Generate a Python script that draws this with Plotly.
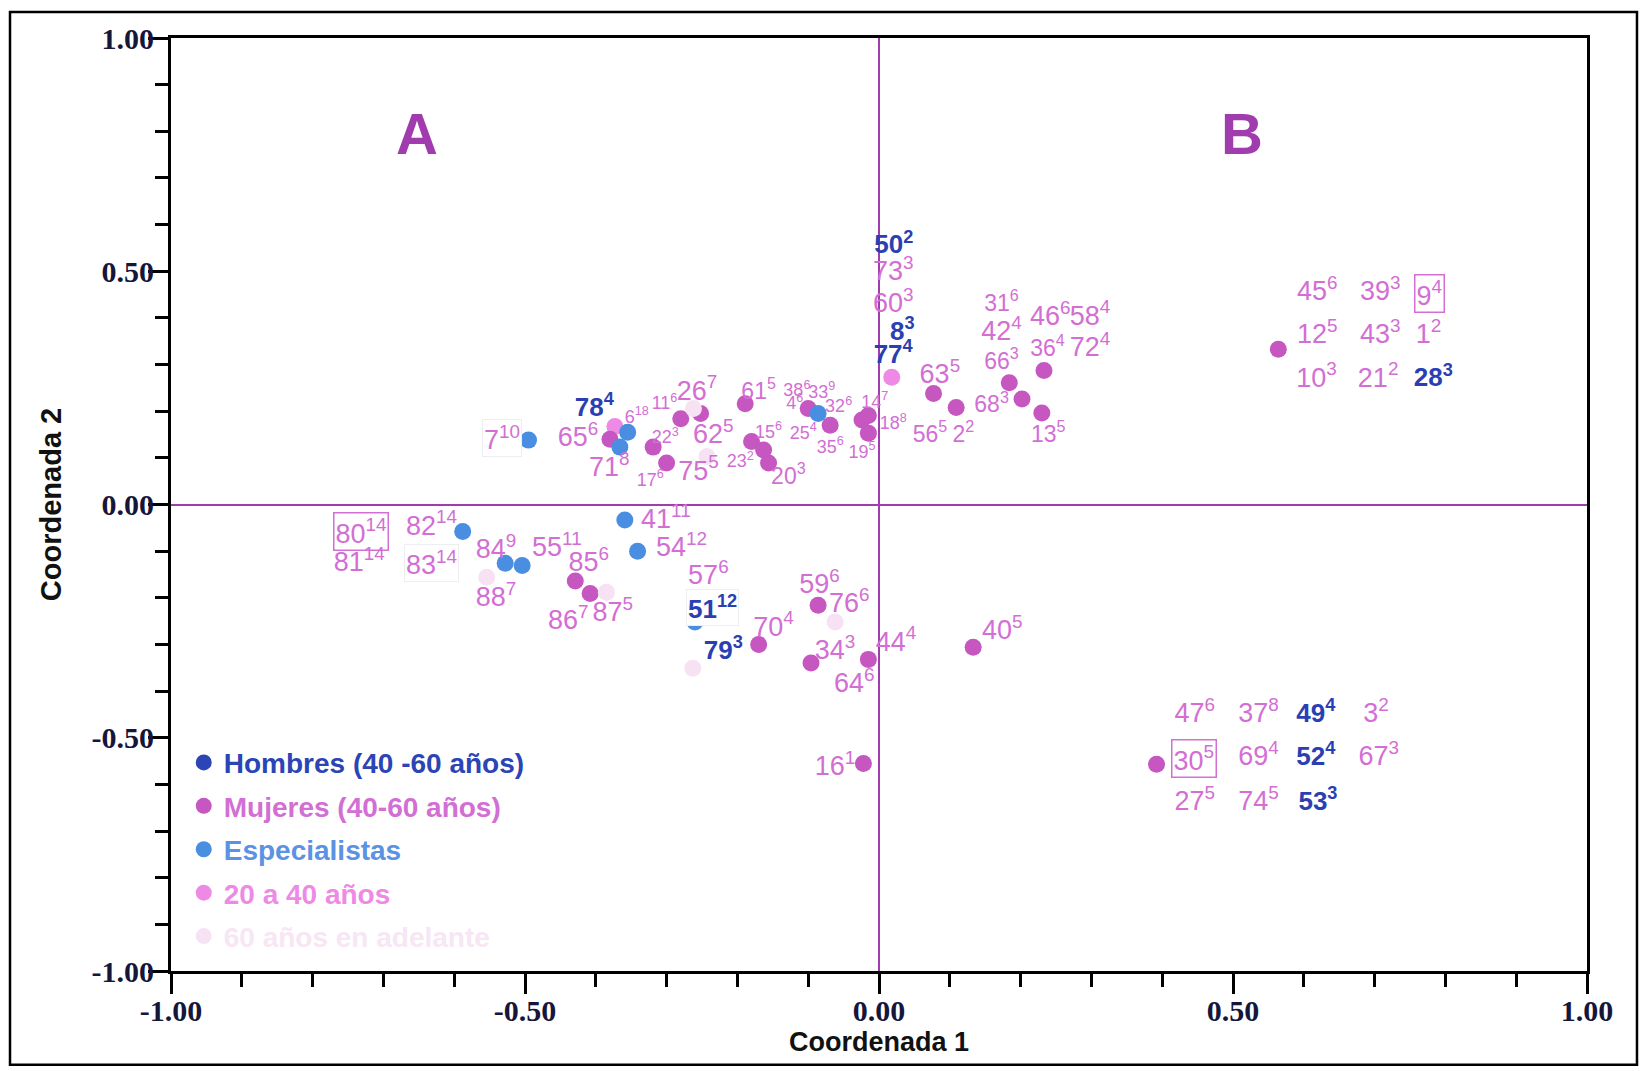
import plotly.graph_objects as go

# ---------------- DATA ----------------
# Dots per group (Coordenada 1, Coordenada 2)
mujeres_x = [-0.38, -0.319, -0.30, -0.28, -0.252, -0.189, -0.18, -0.163, -0.156, -0.10,
             -0.069, -0.024, -0.015, -0.015, 0.077, 0.109, 0.184, 0.202, 0.233, 0.23,
             -0.429, -0.408, -0.17, -0.086, -0.096, -0.015, 0.133, -0.022, 0.564, 0.392]
mujeres_y = [0.14, 0.123, 0.089, 0.184, 0.195, 0.216, 0.135, 0.117, 0.089, 0.206,
             0.170, 0.181, 0.191, 0.153, 0.238, 0.208, 0.261, 0.226, 0.287, 0.196,
             -0.164, -0.191, -0.30, -0.216, -0.34, -0.332, -0.306, -0.555, 0.333, -0.557]

especialistas_x = [-0.495, -0.355, -0.366, -0.086, -0.588, -0.528, -0.504, -0.359, -0.341, -0.26]
especialistas_y = [0.138, 0.155, 0.123, 0.195, -0.058, -0.126, -0.131, -0.033, -0.10, -0.252]

jovenes_x = [-0.373, 0.018]
jovenes_y = [0.167, 0.273]

mayores_x = [-0.262, -0.243, -0.554, -0.385, -0.062, -0.263]
mayores_y = [0.206, 0.103, -0.156, -0.188, -0.252, -0.351]

hombres_x = [None]
hombres_y = [None]

# Case labels: number, superscript, position
big_num = ["65", "26", "62", "75", "71", "73", "60", "63", "46", "58", "72", "42",
           "82", "81", "84", "55", "85", "88", "86", "87", "41", "54", "57", "70",
           "59", "76", "34", "44", "64", "40", "16",
           "45", "39", "12", "43", "1", "10", "21",
           "47", "37", "3", "69", "67", "27", "74"]
big_sup = ["6", "7", "5", "5", "8", "3", "3", "5", "6", "4", "4", "4",
           "14", "14", "9", "11", "6", "7", "7", "5", "11", "12", "6", "4",
           "6", "6", "3", "4", "6", "5", "1",
           "6", "3", "5", "3", "2", "3", "2",
           "6", "8", "2", "4", "3", "5", "5"]
big_x = [-0.425, -0.257, -0.234, -0.255, -0.381, 0.02, 0.02, 0.086, 0.242, 0.298, 0.298, 0.173,
         -0.632, -0.734, -0.541, -0.455, -0.41, -0.541, -0.439, -0.376, -0.301, -0.279, -0.241, -0.149,
         -0.084, -0.042, -0.062, 0.024, -0.035, 0.174, -0.062,
         0.619, 0.708, 0.619, 0.708, 0.776, 0.618, 0.705,
         0.446, 0.536, 0.702, 0.536, 0.706, 0.446, 0.536]
big_y = [0.139, 0.239, 0.146, 0.068, 0.075, 0.495, 0.427, 0.274, 0.399, 0.40, 0.333, 0.367,
         -0.05, -0.128, -0.10, -0.096, -0.128, -0.203, -0.253, -0.235, -0.036, -0.096, -0.157, -0.267,
         -0.175, -0.217, -0.317, -0.299, -0.388, -0.274, -0.566,
         0.452, 0.452, 0.36, 0.36, 0.36, 0.267, 0.267,
         -0.452, -0.452, -0.452, -0.545, -0.545, -0.641, -0.641]

mid_num = ["61", "20", "31", "66", "36", "68", "56", "2", "13"]
mid_sup = ["5", "3", "6", "3", "4", "3", "5", "2", "5"]
mid_x = [-0.17, -0.128, 0.173, 0.173, 0.238, 0.159, 0.072, 0.119, 0.239]
mid_y = [0.239, 0.057, 0.427, 0.303, 0.331, 0.21, 0.146, 0.146, 0.146]

small_num = ["6", "11", "38", "33", "4", "32", "14", "18", "22", "15", "25", "35", "19", "23", "17"]
small_sup = ["18", "6", "6", "9", "6", "6", "7", "8", "3", "6", "4", "6", "5", "2", "6"]
small_x = [-0.342, -0.303, -0.116, -0.081, -0.119, -0.057, -0.006, 0.02, -0.302, -0.156,
           -0.107, -0.069, -0.024, -0.196, -0.323]
small_y = [0.185, 0.214, 0.242, 0.239, 0.214, 0.207, 0.217, 0.171, 0.141, 0.153,
           0.150, 0.121, 0.110, 0.089, 0.050]

hombre_num = ["78", "50", "8", "77", "79", "28", "49", "52", "53"]
hombre_sup = ["4", "2", "3", "4", "3", "3", "4", "4", "3"]
hombre_x = [-0.402, 0.021, 0.033, 0.02, -0.22, 0.783, 0.617, 0.617, 0.62]
hombre_y = [0.203, 0.552, 0.367, 0.317, -0.317, 0.267, -0.452, -0.545, -0.641]

# Boxed labels
boxed_num = ["80", "9", "30", "7", "83", "51"]
boxed_sup = ["14", "4", "5", "10", "14", "12"]
boxed_x = [-0.731, 0.778, 0.445, -0.533, -0.632, -0.235]
boxed_y = [-0.057, 0.452, -0.545, 0.142, -0.125, -0.221]
boxed_group = ["M", "M", "M", "M", "M", "H"]
boxed_strong = [True, True, True, False, False, False]

quadrant_text = ["A", "B"]
quadrant_x = [-0.652, 0.512]
quadrant_y = [0.795, 0.795]

tick_vals = [-1.0, -0.5, 0.0, 0.5, 1.0]
tick_text = ["-1.00", "-0.50", "0.00", "0.50", "1.00"]

# ---------------- STYLE ----------------
C_MUJ = "#C656C0"
C_ESP = "#4A8EE2"
C_JOV = "#EE8AE6"
C_MAY = "#F6E2F2"
C_HOM = "#2B44B6"
C_LAB = "#D26ED4"
C_HLAB = "#2A40B2"
C_PURPLE = "#A13CAE"
SANS = "Liberation Sans, Arial, sans-serif"
SERIF = "Liberation Serif, Times New Roman, serif"
TICKC = "#16163A"

def lab(n, s):
    return [f"{a}<sup>{b}</sup>" for a, b in zip(n, s)]

fig = go.Figure()

def dots(x, y, color, name, rank, group):
    fig.add_trace(go.Scatter(
        x=x, y=y, mode="markers", name=name, legendrank=rank, legendgroup=group,
        marker=dict(size=17, color=color, line=dict(width=0)),
        hoverinfo="skip"))

dots(jovenes_x, jovenes_y, C_JOV, f"<span style='color:{C_JOV}'><b>20 a 40 años</b></span>", 4, "g4")
dots(mujeres_x, mujeres_y, C_MUJ, f"<span style='color:{C_LAB}'><b>Mujeres (40-60 años)</b></span>", 2, "g2")
dots(especialistas_x, especialistas_y, C_ESP, f"<span style='color:#5A92E4'><b>Especialistas</b></span>", 3, "g3")
dots(mayores_x, mayores_y, C_MAY, f"<span style='color:#F7E6F3'><b>60 años en adelante</b></span>", 5, "g5")
dots(hombres_x, hombres_y, C_HOM, f"<span style='color:{C_HOM}'><b>Hombres (40 -60 años)</b></span>", 1, "g1")

def texts(x, y, t, size, color, weight="normal"):
    fig.add_trace(go.Scatter(
        x=x, y=y, mode="text", text=t, textposition="middle center",
        textfont=dict(family=SANS, size=size, color=color, weight=weight),
        showlegend=False, hoverinfo="skip", cliponaxis=False))

texts(big_x, big_y, lab(big_num, big_sup), 27, C_LAB)
texts(mid_x, mid_y, lab(mid_num, mid_sup), 23, C_LAB)
texts(small_x, small_y, lab(small_num, small_sup), 18, C_LAB)
texts(hombre_x, hombre_y, lab(hombre_num, hombre_sup), 26, C_HLAB, "bold")

annotations = []
for t, x, y, g, strong in zip(lab(boxed_num, boxed_sup), boxed_x, boxed_y, boxed_group, boxed_strong):
    annotations.append(dict(
        x=x, y=y, xref="x", yref="y", text=t, showarrow=False,
        font=dict(family=SANS, size=26 if g == "H" else 27, color=C_HLAB if g == "H" else C_LAB,
                  weight="bold" if g == "H" else "normal"),
        bordercolor=C_LAB if strong else "#EEEEF2", borderwidth=1.5 if strong else 1,
        borderpad=1, bgcolor="white" if not strong else "rgba(0,0,0,0)"))
for t, x, y in zip(quadrant_text, quadrant_x, quadrant_y):
    annotations.append(dict(x=x, y=y, xref="x", yref="y", text=t, showarrow=False,
                            font=dict(family=SANS, size=58, color=C_PURPLE, weight="bold")))

axis_common = dict(
    range=[-1, 1], tickmode="array", tickvals=tick_vals, ticktext=tick_text,
    ticks="outside", ticklen=20, tickwidth=3, tickcolor="black",
    minor=dict(dtick=0.1, ticks="outside", ticklen=13, tickwidth=2.5, tickcolor="black", showgrid=False),
    showline=True, linewidth=3, linecolor="black", mirror=True,
    showgrid=False, zeroline=True, zerolinecolor=C_PURPLE, zerolinewidth=2,
    tickfont=dict(family=SERIF, size=30, color=TICKC, weight="bold"),
)

fig.update_layout(
    width=1647, height=1071,
    margin=dict(l=171, r=60, t=38, b=100),
    paper_bgcolor="white", plot_bgcolor="white",
    xaxis=dict(**axis_common, ticklabelstandoff=-9,
               title=dict(text="Coordenada 1", standoff=4,
                          font=dict(family=SANS, size=27, color="#111111", weight="bold"))),
    yaxis=dict(**axis_common, ticklabelstandoff=-12,
               title=dict(text="Coordenada 2", standoff=22,
                          font=dict(family=SANS, size=29, color="#111111", weight="bold"))),
    legend=dict(x=0.009, y=0.25, xanchor="left", yanchor="top",
                bgcolor="rgba(0,0,0,0)", tracegroupgap=4,
                font=dict(family=SANS, size=28)),
    annotations=annotations,
    shapes=[dict(type="rect", xref="paper", yref="paper",
                 x0=-0.1137, x1=1.0353, y0=-0.1006, y1=1.0278,
                 line=dict(color="black", width=2.5))],
    showlegend=True,
)

fig.write_html("out.html")
